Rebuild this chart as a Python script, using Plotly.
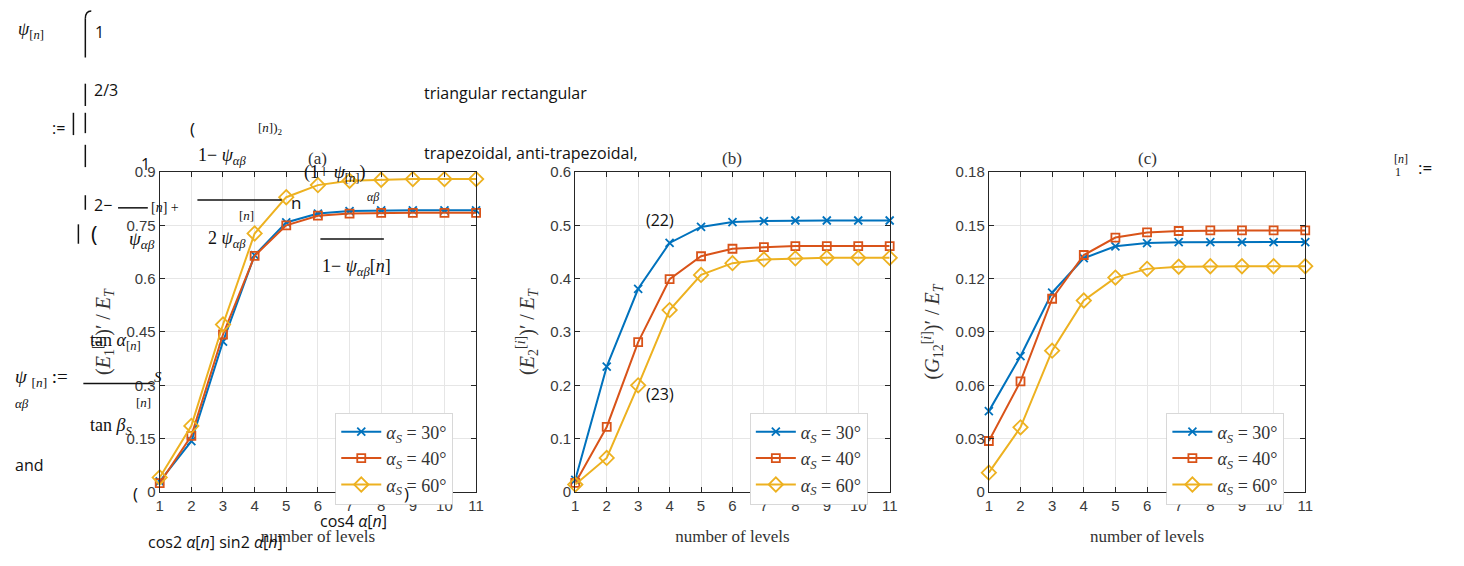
import plotly.graph_objects as go

W, H = 1464, 566

levels = [1, 2, 3, 4, 5, 6, 7, 8, 9, 10, 11]
series_names = ["<i>α<sub>S</sub></i> = 30°", "<i>α<sub>S</sub></i> = 40°", "<i>α<sub>S</sub></i> = 60°"]

# Panel (a): (E1)'/ET
a_30 = [0.030, 0.143, 0.423, 0.666, 0.758, 0.783, 0.790, 0.792, 0.792, 0.792, 0.792]
a_40 = [0.025, 0.158, 0.443, 0.664, 0.750, 0.777, 0.783, 0.785, 0.785, 0.785, 0.785]
a_60 = [0.041, 0.186, 0.471, 0.727, 0.829, 0.863, 0.875, 0.878, 0.880, 0.880, 0.880]
# Panel (b): (E2)'/ET
b_30 = [0.023, 0.235, 0.381, 0.467, 0.497, 0.506, 0.508, 0.509, 0.509, 0.509, 0.509]
b_40 = [0.017, 0.122, 0.281, 0.399, 0.442, 0.456, 0.459, 0.461, 0.461, 0.461, 0.461]
b_60 = [0.014, 0.064, 0.200, 0.341, 0.407, 0.429, 0.436, 0.438, 0.439, 0.439, 0.439]
# Panel (c): (G12)'/ET
c_30 = [0.0455, 0.0764, 0.1122, 0.1315, 0.1382, 0.1400, 0.1405, 0.1406, 0.1406, 0.1406, 0.1406]
c_40 = [0.0287, 0.0622, 0.1087, 0.1333, 0.1431, 0.1460, 0.1468, 0.1471, 0.1471, 0.1471, 0.1471]
c_60 = [0.0109, 0.0364, 0.0795, 0.1077, 0.1206, 0.1255, 0.1267, 0.1270, 0.1270, 0.1270, 0.1270]

panel_titles = ["(a)", "(b)", "(c)"]
y_titles = [
    "(<i>E</i><sub>1</sub><sup>[<i>i</i>]</sup>)′ / <i>E</i><sub><i>T</i></sub>",
    "(<i>E</i><sub>2</sub><sup>[<i>i</i>]</sup>)′ / <i>E</i><sub><i>T</i></sub>",
    "(<i>G</i><sub>12</sub><sup>[<i>i</i>]</sup>)′ / <i>E</i><sub><i>T</i></sub>",
]
y_ticks = [
    [0, 0.15, 0.3, 0.45, 0.6, 0.75, 0.9],
    [0, 0.1, 0.2, 0.3, 0.4, 0.5, 0.6],
    [0, 0.03, 0.06, 0.09, 0.12, 0.15, 0.18],
]
y_tick_text = [
    ["0", "0.15", "0.3", "0.45", "0.6", "0.75", "0.9"],
    ["0", "0.1", "0.2", "0.3", "0.4", "0.5", "0.6"],
    ["0", "0.03", "0.06", "0.09", "0.12", "0.15", "0.18"],
]
x_label = "number of levels"

colors = ["#0072BD", "#D95319", "#EDB120"]
symbols = ["x-thin-open", "square-open", "diamond-open"]
msizes = [8, 8, 11]

panels = [(a_30, a_40, a_60), (b_30, b_40, b_60), (c_30, c_40, c_60)]
x_dom_px = [(157, 476), (576, 893), (993, 1312)]
y_dom_px = (168, 498)
legend_left_px = [334, 752, 1172]

def px(x):
    return x / W

def py(y):
    return 1 - y / H

fig = go.Figure()
axis_color = "#262626"
grid_color = "#e6e6e6"
tick_font = dict(family="Liberation Sans", size=15, color="#3a3a3a")
serif = "Liberation Serif"

for p in range(3):
    suffix = "" if p == 0 else str(p + 1)
    leg = "legend" if p == 0 else "legend" + str(p + 1)
    for s in range(3):
        fig.add_trace(go.Scatter(
            x=levels, y=panels[p][s], mode="lines+markers",
            name=series_names[s],
            line=dict(color=colors[s], width=2),
            marker=dict(symbol=symbols[s], size=msizes[s], color=colors[s],
                        line=dict(color=colors[s], width=1.8)),
            xaxis="x" + suffix, yaxis="y" + suffix, legend=leg,
            cliponaxis=False,
        ))
    x0, x1 = x_dom_px[p]
    fig.layout["xaxis" + suffix] = dict(
        domain=[px(x0), px(x1)], range=[1, 11], tickvals=levels,
        ticks="inside", ticklen=5, tickcolor=axis_color, mirror="ticks",
        showline=True, linecolor=axis_color, linewidth=1.2,
        showgrid=True, gridcolor=grid_color, gridwidth=1, zeroline=False,
        tickfont=tick_font, anchor="y" + suffix,
        title=dict(text=x_label, font=dict(family=serif, size=17, color="#333333"), standoff=16),
    )
    fig.layout["yaxis" + suffix] = dict(
        domain=[py(y_dom_px[1]), py(y_dom_px[0])], range=[0, y_ticks[p][-1]],
        tickvals=y_ticks[p], ticktext=y_tick_text[p],
        ticks="inside", ticklen=5, tickcolor=axis_color, mirror="ticks",
        showline=True, linecolor=axis_color, linewidth=1.2,
        showgrid=True, gridcolor=grid_color, gridwidth=1, zeroline=False,
        tickfont=tick_font, anchor="x" + suffix,
        title=dict(text=y_titles[p], font=dict(family=serif, size=20, color="#333333"), standoff=10),
    )
    fig.layout[leg] = dict(
        x=px(legend_left_px[p]), y=py(416), xanchor="left", yanchor="top",
        bgcolor="white", bordercolor="rgba(200,200,200,0.7)", borderwidth=1,
        font=dict(family=serif, size=18, color="#333333"),
        itemwidth=40, tracegroupgap=0,
    )
    fig.add_annotation(x=px((x0 + x1) / 2), y=py(154), xref="paper", yref="paper",
                       text=panel_titles[p], showarrow=False, xanchor="center", yanchor="middle",
                       font=dict(family=serif, size=17, color="#333333"))

# stray text fragments overlaid on the page
SANS = "Open Sans"
SERIF = "Liberation Serif"
frags = [
    (12, 22, "<i>ψ</i><sub>[<i>n</i>]</sub>", SERIF, 18),
    (90, 24, "1", SANS, 16),
    (89, 84, "2/3", SANS, 16),
    (46, 123, ":=", SANS, 16),
    (186, 123, "(", SANS, 17),
    (254, 123, "[<i>n</i>])<sub>2</sub>", SERIF, 13),
    (194, 152, "1− <i>ψ<sub>αβ</sub></i>", SERIF, 18),
    (136, 160, "1", SANS, 16),
    (300, 170, "(1+ <i>ψ</i><sub>[<i>n</i>]</sub>)", SERIF, 18),
    (89, 202, "2−", SANS, 16),
    (146, 205, "[<i>n</i>] +", SERIF, 14),
    (287, 200, "n", SANS, 17),
    (364, 194, "<i>αβ</i>", SERIF, 12),
    (235, 213, "[<i>n</i>]", SERIF, 13),
    (124, 238, "<i>ψ<sub>αβ</sub></i>", SERIF, 19),
    (204, 238, "2 <i>ψ<sub>αβ</sub></i>", SERIF, 18),
    (319, 266, "1− <i>ψ<sub>αβ</sub></i>[<i>n</i>]", SERIF, 18),
    (421, 87, "triangular rectangular", SANS, 16),
    (421, 148, "trapezoidal, anti-trapezoidal,", SANS, 16),
    (1399, 155, "[<i>n</i>]", SERIF, 12),
    (1400, 168, "1", SERIF, 12),
    (1424, 163, ":=", SANS, 17),
    (645, 218, "(22)", SANS, 16),
    (645, 397, "(23)", SANS, 16),
    (85, 343, "tan <i>α</i><sub>[<i>n</i>]</sub>", SERIF, 18),
    (9, 380, "<i>ψ</i> <sub>[<i>n</i>]</sub> :=", SERIF, 19),
    (9, 407, "<i>αβ</i>", SERIF, 13),
    (149, 379, "<i>S</i>", SERIF, 15),
    (131, 406, "[<i>n</i>]", SERIF, 13),
    (85, 430, "tan <i>β<sub>S</sub></i>", SERIF, 18),
    (9, 470, "and", SANS, 16),
    (128, 500, "(", SANS, 17),
    (401, 500, ")", SANS, 17),
    (317, 528, "cos4 <i>α</i>[<i>n</i>]", SANS, 16),
    (143, 550, "cos2 <i>α</i>[<i>n</i>] sin2 <i>α</i>[<i>n</i>]", SANS, 16),
    (86, 231, "(", SANS, 22),
]
for (fx, fy, txt, fam, sz) in frags:
    fig.add_annotation(x=px(fx), y=py(fy), xref="paper", yref="paper", text=txt,
                       showarrow=False, xanchor="left", yanchor="middle",
                       font=dict(family=fam, size=sz, color="#111111"))

# fraction bars and bracket strokes
segs = [
    (115, 205, 145, 205), (195, 197, 280, 197), (319, 237, 383, 237), (80, 386, 150, 386),
    (82, 10, 82, 50), (70, 107, 70, 130), (82, 107, 82, 128), (82, 140, 82, 163),
    (82, 192, 82, 207), (75, 222, 75, 242), (82, 77, 82, 100),
]
for (xa, ya, xb, yb) in segs:
    fig.add_shape(type="line", xref="paper", yref="paper",
                  x0=px(xa), y0=py(ya), x1=px(xb), y1=py(yb),
                  line=dict(color="#111111", width=1.5))
fig.add_shape(type="path", xref="paper", yref="paper",
              path=f"M {px(82)},{py(10)} Q {px(82)},{py(2)} {px(88)},{py(2)}",
              line=dict(color="#111111", width=1.5))

fig.update_layout(
    width=W, height=H, margin=dict(l=0, r=0, t=0, b=0),
    font=dict(family=serif, color="#333333"),
    paper_bgcolor="white", plot_bgcolor="white", showlegend=True,
)

fig.write_html("out.html")
